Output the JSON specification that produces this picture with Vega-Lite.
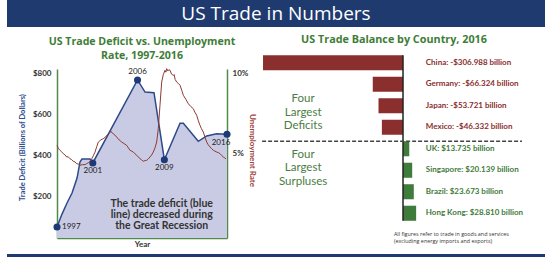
{
  "$schema": "https://vega.github.io/schema/vega-lite/v6.json",
  "padding": {"left": 7, "top": 0, "right": 0, "bottom": 0},
  "background": "white",
  "config": {
    "view": {"stroke": null},
    "font": "Lato",
    "axis": {"labelFont": "Lato", "titleFont": "Lato"},
    "text": {"font": "Lato"},
    "title": {"font": "Lato"}
  },
  "datasets": {
    "deficit": [
      {"year": 1997.0, "value": 53}, {"year": 1997.56, "value": 116}, {"year": 1998.12, "value": 170},
      {"year": 1998.68, "value": 218}, {"year": 1999.24, "value": 291}, {"year": 1999.57, "value": 369},
      {"year": 1999.79, "value": 383}, {"year": 2000.69, "value": 383}, {"year": 2001.0, "value": 364},
      {"year": 2006.0, "value": 767}, {"year": 2006.84, "value": 708}, {"year": 2007.84, "value": 705},
      {"year": 2009.0, "value": 380}, {"year": 2010.75, "value": 557}, {"year": 2011.12, "value": 557},
      {"year": 2012.79, "value": 469}, {"year": 2013.73, "value": 495}, {"year": 2014.85, "value": 506},
      {"year": 2016.0, "value": 503}
    ],
    "marks": [
      {"year": 1997, "value": 53, "label": "1997"},
      {"year": 2001, "value": 364, "label": "2001"},
      {"year": 2006, "value": 767, "label": "2006"},
      {"year": 2009, "value": 380, "label": "2009"},
      {"year": 2016, "value": 503, "label": "2016"}
    ],
    "unemp": [
      {"year": 1997.00, "rate": 5.51}, {"year": 1997.17, "rate": 5.30}, {"year": 1997.34, "rate": 5.20},
      {"year": 1997.50, "rate": 5.12}, {"year": 1997.70, "rate": 4.99}, {"year": 1997.88, "rate": 4.92},
      {"year": 1998.08, "rate": 4.78}, {"year": 1998.25, "rate": 4.80}, {"year": 1998.45, "rate": 4.67},
      {"year": 1998.62, "rate": 4.62}, {"year": 1998.82, "rate": 4.51}, {"year": 1999.00, "rate": 4.48},
      {"year": 1999.20, "rate": 4.36}, {"year": 1999.38, "rate": 4.34}, {"year": 1999.57, "rate": 4.26},
      {"year": 1999.85, "rate": 4.30}, {"year": 2000.13, "rate": 4.30}, {"year": 2000.30, "rate": 4.36},
      {"year": 2000.50, "rate": 4.42}, {"year": 2000.70, "rate": 4.50}, {"year": 2000.88, "rate": 4.67},
      {"year": 2001.05, "rate": 4.85}, {"year": 2001.25, "rate": 5.09}, {"year": 2001.45, "rate": 5.45},
      {"year": 2001.62, "rate": 5.72}, {"year": 2001.90, "rate": 5.85}, {"year": 2002.17, "rate": 5.93},
      {"year": 2002.45, "rate": 6.05}, {"year": 2002.73, "rate": 6.24}, {"year": 2002.90, "rate": 6.30},
      {"year": 2003.04, "rate": 6.39}, {"year": 2003.17, "rate": 6.28}, {"year": 2003.29, "rate": 6.24},
      {"year": 2003.48, "rate": 6.15}, {"year": 2003.67, "rate": 6.03}, {"year": 2003.95, "rate": 5.85},
      {"year": 2004.23, "rate": 5.72}, {"year": 2004.50, "rate": 5.62}, {"year": 2004.79, "rate": 5.51},
      {"year": 2004.98, "rate": 5.35}, {"year": 2005.16, "rate": 5.20}, {"year": 2005.35, "rate": 5.15},
      {"year": 2005.53, "rate": 5.09}, {"year": 2005.72, "rate": 4.98}, {"year": 2005.91, "rate": 4.89},
      {"year": 2006.10, "rate": 4.78}, {"year": 2006.28, "rate": 4.67}, {"year": 2006.45, "rate": 4.60},
      {"year": 2006.65, "rate": 4.51}, {"year": 2006.85, "rate": 4.56}, {"year": 2007.03, "rate": 4.57},
      {"year": 2007.20, "rate": 4.66}, {"year": 2007.39, "rate": 4.78}, {"year": 2007.57, "rate": 4.90},
      {"year": 2007.76, "rate": 5.09}, {"year": 2007.95, "rate": 5.35}, {"year": 2008.14, "rate": 5.72},
      {"year": 2008.32, "rate": 6.56}, {"year": 2008.51, "rate": 8.02}, {"year": 2008.70, "rate": 9.48},
      {"year": 2008.88, "rate": 9.95}, {"year": 2009.07, "rate": 10.22}, {"year": 2009.17, "rate": 10.10},
      {"year": 2009.26, "rate": 10.32}, {"year": 2009.40, "rate": 10.18}, {"year": 2009.50, "rate": 10.25},
      {"year": 2009.63, "rate": 10.22}, {"year": 2009.80, "rate": 9.98}, {"year": 2010.00, "rate": 9.90},
      {"year": 2010.10, "rate": 9.95}, {"year": 2010.20, "rate": 9.65}, {"year": 2010.38, "rate": 9.48},
      {"year": 2010.55, "rate": 9.40}, {"year": 2010.75, "rate": 9.28}, {"year": 2010.95, "rate": 8.95},
      {"year": 2011.12, "rate": 8.65}, {"year": 2011.40, "rate": 8.40}, {"year": 2011.68, "rate": 8.12},
      {"year": 2011.95, "rate": 7.95}, {"year": 2012.23, "rate": 7.81}, {"year": 2012.40, "rate": 7.60},
      {"year": 2012.61, "rate": 7.40}, {"year": 2012.80, "rate": 7.05}, {"year": 2012.98, "rate": 6.77},
      {"year": 2013.15, "rate": 6.55}, {"year": 2013.35, "rate": 6.35}, {"year": 2013.55, "rate": 6.00},
      {"year": 2013.73, "rate": 5.72}, {"year": 2013.90, "rate": 5.55}, {"year": 2014.10, "rate": 5.41},
      {"year": 2014.30, "rate": 5.30}, {"year": 2014.47, "rate": 5.20}, {"year": 2014.65, "rate": 5.15},
      {"year": 2014.85, "rate": 5.09}, {"year": 2015.05, "rate": 5.05}, {"year": 2015.22, "rate": 4.99},
      {"year": 2015.40, "rate": 4.88}, {"year": 2015.59, "rate": 4.78}, {"year": 2015.75, "rate": 4.72},
      {"year": 2015.89, "rate": 4.67}
    ],
    "balance": [
      {"country": "China", "balance": -306.988, "kind": "deficit", "label": "China: -$306.988 billion"},
      {"country": "Germany", "balance": -66.324, "kind": "deficit", "label": "Germany: -$66.324 billion"},
      {"country": "Japan", "balance": -53.721, "kind": "deficit", "label": "Japan: -$53.721 billion"},
      {"country": "Mexico", "balance": -46.332, "kind": "deficit", "label": "Mexico: -$46.332 billion"},
      {"country": "UK", "balance": 13.735, "kind": "surplus", "label": "UK: $13.735 billion"},
      {"country": "Singapore", "balance": 20.139, "kind": "surplus", "label": "Singapore: $20.139 billion"},
      {"country": "Brazil", "balance": 23.673, "kind": "surplus", "label": "Brazil: $23.673 billion"},
      {"country": "Hong Kong", "balance": 28.810, "kind": "surplus", "label": "Hong Kong: $28.810 billion"}
    ],
    "groups": [
      {"country": "Japan", "kind": "deficit", "group": "Four\nLargest\nDeficits"},
      {"country": "Singapore", "kind": "surplus", "group": "Four\nLargest\nSurpluses"}
    ]
  },
  "bounds": "full",
  "spacing": 6,
  "vconcat": [
    {
      "width": 538,
      "height": 27,
      "view": {"fill": "#1f3a6f", "stroke": null},
      "data": {"values": [{"title": "US Trade in Numbers"}]},
      "mark": {"type": "text", "color": "white", "font": "Open Sans", "fontSize": 19, "baseline": "middle", "align": "center"},
      "encoding": {"text": {"field": "title", "type": "nominal"}}
    },
    {
      "bounds": "flush",
      "spacing": 31,
      "hconcat": [
        {
          "width": 19,
          "height": 169,
          "data": {"values": [{}]},
          "mark": {"type": "bar", "opacity": 0}
        },
        {
          "width": 170,
          "height": 169,
          "title": {
            "text": ["US Trade Deficit vs. Unemployment", "Rate, 1997-2016"],
            "font": "Open Sans", "fontSize": 10.6, "fontWeight": "bold", "color": "#3e7d37",
            "lineHeight": 14, "offset": 5, "frame": "group", "anchor": "middle"
          },
          "resolve": {"scale": {"y": "independent"}},
          "layer": [
            {
              "layer": [
                {
                  "data": {"name": "deficit"},
                  "mark": {"type": "area", "color": "#c8cbe3", "opacity": 1},
                  "encoding": {
                    "x": {
                      "field": "year", "type": "quantitative", "title": "Year",
                      "scale": {"domain": [1997, 2016], "nice": false, "zero": false},
                      "axis": {
                        "labels": false, "ticks": false, "grid": false,
                        "domainColor": "#4f8a46", "domainWidth": 1.5,
                        "title": "Year", "titleFontSize": 8, "titleFontWeight": "bold",
                        "titleColor": "#333333", "titlePadding": 2
                      }
                    },
                    "y": {
                      "field": "value", "type": "quantitative",
                      "title": "Trade Deficit (Billions of Dollars)",
                      "scale": {"domain": [0, 820], "nice": false, "zero": false},
                      "axis": {
                        "orient": "left", "values": [200, 400, 600, 800],
                        "labelExpr": "'$' + datum.value",
                        "ticks": false, "grid": false,
                        "domainColor": "#4f8a46", "domainWidth": 1.5,
                        "labelFontSize": 8, "labelFontWeight": "bold", "labelColor": "#333333",
                        "labelPadding": 6,
                        "title": "Trade Deficit (Billions of Dollars)",
                        "titleFontSize": 7.5, "titleFontWeight": "bold", "titleColor": "#2e4d8f",
                        "titlePadding": 6, "titleY": 78
                      }
                    }
                  }
                },
                {
                  "data": {"name": "deficit"},
                  "mark": {"type": "line", "color": "#2d4a8a", "strokeWidth": 1.5},
                  "encoding": {
                    "x": {"field": "year", "type": "quantitative", "title": "Year"},
                    "y": {"field": "value", "type": "quantitative", "title": "Trade Deficit (Billions of Dollars)"}
                  }
                },
                {
                  "data": {"name": "marks"},
                  "mark": {"type": "circle", "size": 50, "color": "#1c3a78", "opacity": 1},
                  "encoding": {
                    "x": {"field": "year", "type": "quantitative", "title": "Year"},
                    "y": {"field": "value", "type": "quantitative", "title": "Trade Deficit (Billions of Dollars)"}
                  }
                },
                {
                  "data": {"name": "marks"},
                  "transform": [{"filter": "datum.label == '1997'"}],
                  "mark": {"type": "text", "align": "left", "baseline": "middle", "dx": 5, "fontSize": 8, "color": "#222222"},
                  "encoding": {
                    "x": {"field": "year", "type": "quantitative", "title": "Year"},
                    "y": {"field": "value", "type": "quantitative", "title": "Trade Deficit (Billions of Dollars)"},
                    "text": {"field": "label", "type": "nominal"}
                  }
                },
                {
                  "data": {"name": "marks"},
                  "transform": [{"filter": "datum.label == '2001' || datum.label == '2009'"}],
                  "mark": {"type": "text", "align": "center", "baseline": "middle", "dy": 8, "fontSize": 8, "color": "#222222"},
                  "encoding": {
                    "x": {"field": "year", "type": "quantitative", "title": "Year"},
                    "y": {"field": "value", "type": "quantitative", "title": "Trade Deficit (Billions of Dollars)"},
                    "text": {"field": "label", "type": "nominal"}
                  }
                },
                {
                  "data": {"name": "marks"},
                  "transform": [{"filter": "datum.label == '2006'"}],
                  "mark": {"type": "text", "align": "center", "baseline": "middle", "dy": -8, "fontSize": 8, "color": "#222222"},
                  "encoding": {
                    "x": {"field": "year", "type": "quantitative", "title": "Year"},
                    "y": {"field": "value", "type": "quantitative", "title": "Trade Deficit (Billions of Dollars)"},
                    "text": {"field": "label", "type": "nominal"}
                  }
                },
                {
                  "data": {"name": "marks"},
                  "transform": [{"filter": "datum.label == '2016'"}],
                  "mark": {"type": "text", "align": "center", "baseline": "middle", "dx": -6, "dy": 9, "fontSize": 8, "color": "#222222"},
                  "encoding": {
                    "x": {"field": "year", "type": "quantitative", "title": "Year"},
                    "y": {"field": "value", "type": "quantitative", "title": "Trade Deficit (Billions of Dollars)"},
                    "text": {"field": "label", "type": "nominal"}
                  }
                },
                {
                  "data": {"values": [{"note": "The trade deficit (blue\nline) decreased during\nthe Great Recession"}]},
                  "mark": {"type": "text", "align": "center", "baseline": "middle", "lineBreak": "\n", "lineHeight": 11, "fontSize": 10.5, "fontWeight": "bold", "color": "#333333"},
                  "encoding": {
                    "x": {"datum": 2008.7, "type": "quantitative"},
                    "y": {"datum": 167, "type": "quantitative"},
                    "text": {"field": "note", "type": "nominal"}
                  }
                }
              ]
            },
            {
              "data": {"name": "unemp"},
              "mark": {"type": "line", "color": "#8e3a32", "strokeWidth": 1},
              "encoding": {
                "x": {"field": "year", "type": "quantitative", "title": "Year"},
                "y": {
                  "field": "rate", "type": "quantitative",
                  "scale": {"domain": [-0.3, 10.3], "nice": false, "zero": false},
                  "axis": {
                    "orient": "right", "values": [5, 10],
                    "labelExpr": "datum.value + '%'",
                    "ticks": false, "grid": false,
                    "domainColor": "#4f8a46", "domainWidth": 1.5,
                    "labelFontSize": 8, "labelFontWeight": "bold", "labelColor": "#333333",
                    "labelPadding": 5,
                    "title": "Unemployment Rate",
                    "titleFontSize": 8, "titleFontWeight": "bold", "titleColor": "#a0453a",
                    "titlePadding": 0, "titleY": 81
                  }
                }
              }
            }
          ]
        },
        {
          "width": 272,
          "height": 169,
          "title": {
            "text": "US Trade Balance by Country, 2016",
            "font": "Open Sans", "fontSize": 10.8, "fontWeight": "bold", "color": "#3e7d37",
            "offset": 10, "frame": "group", "anchor": "middle"
          },
          "encoding": {
            "y": {
              "field": "country", "type": "nominal", "sort": null,
              "scale": {
                "domain": ["China", "Germany", "Japan", "Mexico", "UK", "Singapore", "Brazil", "Hong Kong"],
                "range": [-17, 155], "paddingInner": 0.3, "paddingOuter": 0.15
              },
              "axis": null
            }
          },
          "layer": [
            {
              "data": {"name": "balance"},
              "mark": {"type": "bar"},
              "encoding": {
                "x": {
                  "field": "balance", "type": "quantitative",
                  "scale": {"domain": [-318, 278.5], "nice": false},
                  "axis": null
                },
                "x2": {"datum": 0},
                "color": {
                  "field": "kind", "type": "nominal",
                  "scale": {"domain": ["deficit", "surplus"], "range": ["#8a2e2e", "#3f7b3a"]},
                  "legend": null
                }
              }
            },
            {
              "data": {"name": "balance"},
              "mark": {"type": "text", "align": "left", "baseline": "middle", "fontSize": 8, "fontWeight": "bold"},
              "encoding": {
                "x": {"datum": 50, "type": "quantitative"},
                "text": {"field": "label", "type": "nominal"},
                "color": {"field": "kind", "type": "nominal", "legend": null}
              }
            },
            {
              "data": {"values": [{}]},
              "mark": {"type": "rule", "color": "#222222", "strokeWidth": 1.5},
              "encoding": {
                "x": {"datum": 0, "type": "quantitative"},
                "y": {"datum": "China", "bandPosition": 0},
                "y2": {"datum": "Hong Kong", "bandPosition": 1}
              }
            },
            {
              "data": {"values": [{}]},
              "mark": {"type": "rule", "color": "#444444", "strokeWidth": 1.5, "strokeDash": [4, 2]},
              "encoding": {
                "x": {"datum": -309, "type": "quantitative"},
                "x2": {"datum": 261},
                "y": {"datum": "UK", "bandPosition": 0}
              }
            },
            {
              "data": {"name": "groups"},
              "transform": [{"filter": "datum.kind == 'deficit'"}],
              "mark": {"type": "text", "align": "center", "baseline": "middle", "lineBreak": "\n", "lineHeight": 13.5, "fontSize": 11.5, "color": "#4a7d44", "dy": -6.5},
              "encoding": {
                "x": {"datum": -219, "type": "quantitative"},
                "text": {"field": "group", "type": "nominal"}
              }
            },
            {
              "data": {"name": "groups"},
              "transform": [{"filter": "datum.kind == 'surplus'"}],
              "mark": {"type": "text", "align": "center", "baseline": "middle", "lineBreak": "\n", "lineHeight": 13.5, "fontSize": 11.5, "color": "#4a7d44", "dy": -15.5},
              "encoding": {
                "x": {"datum": -219, "type": "quantitative"},
                "text": {"field": "group", "type": "nominal"}
              }
            },
            {
              "data": {"values": [{"note": "All figures refer to trade in goods and services\n(excluding energy imports and exports)"}]},
              "mark": {"type": "text", "align": "left", "baseline": "middle", "lineBreak": "\n", "lineHeight": 6.8, "fontSize": 5.4, "font": "Open Sans", "color": "#333333", "dy": 21},
              "encoding": {
                "x": {"datum": -20, "type": "quantitative"},
                "y": {"datum": "Hong Kong"},
                "text": {"field": "note", "type": "nominal"}
              }
            }
          ]
        }
      ]
    },
    {
      "width": 538,
      "height": 3,
      "data": {"values": [{}]},
      "mark": {"type": "bar", "color": "#1f3a6f"}
    }
  ]
}
